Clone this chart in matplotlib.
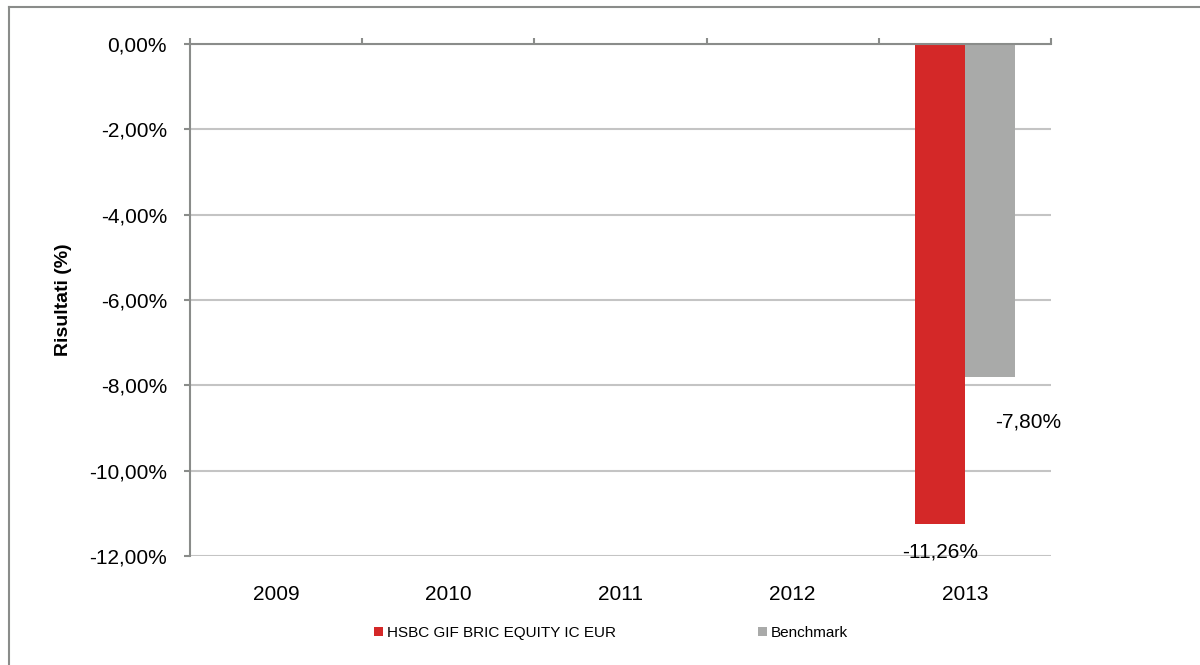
import matplotlib
matplotlib.use("Agg")
import matplotlib.pyplot as plt
import numpy as np
from matplotlib.ticker import FuncFormatter, FixedLocator
from matplotlib.lines import Line2D

plt.rcParams['font.family'] = ['Liberation Sans', 'DejaVu Sans']

years = ['2009', '2010', '2011', '2012', '2013']
fund_name = 'HSBC GIF BRIC EQUITY IC EUR'
bench_name = 'Benchmark'
fund_values = [np.nan, np.nan, np.nan, np.nan, -11.26]
bench_values = [np.nan, np.nan, np.nan, np.nan, -7.80]
y_ticks = [0, -2, -4, -6, -8, -10, -12]

RED = '#d42828'
GREY = '#a9aaa9'
AXIS = '#8a8c8a'
GRID = '#c4c4c4'

fig = plt.figure(figsize=(12, 6.65), dpi=100)
ax = fig.add_axes([0.1583, 0.1639, 0.7175, 0.7699])

x = np.arange(len(years))
w = 0.29
b1 = ax.bar(x - 0.145, fund_values, width=w, color=RED, label=fund_name, zorder=3)
b2 = ax.bar(x + 0.145, bench_values, width=w, color=GREY, label=bench_name, zorder=3)

ax.set_xlim(-0.5, len(years) - 0.5)
ax.set_ylim(-12, 0)
ax.set_yticks(y_ticks)
ax.yaxis.set_major_formatter(FuncFormatter(lambda v, p: f"{v:.2f}%".replace('.', ',').replace('\u2212', '-')))
ax.grid(axis='y', color=GRID, linewidth=1.5, zorder=0)
ax.set_axisbelow(True)

for s in ['right', 'bottom']:
    ax.spines[s].set_visible(False)
for s in ['left', 'top']:
    ax.spines[s].set_color(AXIS)
    ax.spines[s].set_linewidth(1.5)
ax.spines['top'].set_zorder(4)

ax.set_xticks(x)
ax.set_xticklabels(years)
ax.xaxis.set_minor_locator(FixedLocator(np.arange(-0.5, len(years), 1.0)))
ax.tick_params(axis='x', which='major', bottom=True, top=False, length=0, pad=21, labelsize=15)
ax.tick_params(axis='x', which='minor', bottom=False, top=True, direction='out', length=4.5, width=1.5, color=AXIS)
ax.tick_params(axis='y', which='major', direction='out', length=4.5, width=1.5, color=AXIS, pad=12, labelsize=15)

ax.set_ylabel('Risultati (%)', fontsize=14, fontweight='bold')
ax.yaxis.set_label_coords(-0.137, 0.5)

# data labels
for rect, v in zip(b1, fund_values):
    if not np.isnan(v):
        ax.annotate(f"{v:.2f}%".replace('.', ','), (rect.get_x() + rect.get_width() / 2, v),
                    xytext=(0, -20), textcoords='offset points', ha='center', va='center', fontsize=15)
for rect, v in zip(b2, bench_values):
    if not np.isnan(v):
        ax.annotate(f"{v:.2f}%".replace('.', ','), (rect.get_x() + rect.get_width() / 2, v),
                    xytext=(27.5, -32.5), textcoords='offset points', ha='center', va='center', fontsize=15)

fig.legend(handles=[b1, b2], labels=[fund_name, bench_name], loc='center left',
           bbox_to_anchor=(374 / 1200, 1 - 633 / 665), ncol=2, frameon=False,
           fontsize=11, handlelength=0.6, handleheight=0.6, handletextpad=0.25,
           columnspacing=9.3, borderpad=0, borderaxespad=0)

# outer frame
fig.add_artist(Line2D([9 / 1200, 9 / 1200], [0, 1 - 7 / 665], transform=fig.transFigure, color=AXIS, lw=1.5))
fig.add_artist(Line2D([9 / 1200, 1], [1 - 7 / 665, 1 - 7 / 665], transform=fig.transFigure, color=AXIS, lw=1.5))

fig.savefig('out.png', dpi=100)
